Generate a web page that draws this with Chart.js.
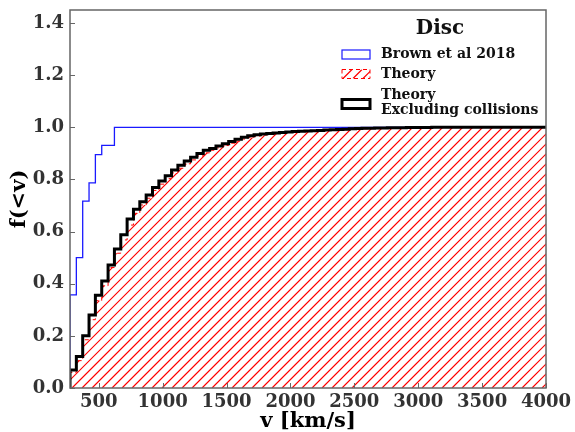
<!DOCTYPE html>
<html>
<head>
<meta charset="utf-8">
<script src="https://cdn.jsdelivr.net/npm/chart.js@4"></script>
<style>
  html, body { margin: 0; padding: 0; background: #fff; }
  #wrap { width: 575px; height: 432px; }
</style>
</head>
<body>
<div id="wrap"><canvas id="cdf"></canvas></div>
<script>
// velocity range and binning of the histograms
const vMin = 275;
const vMax = 4000;
const nBins = 75;

// Brown et al 2018 (only first bins differ from 1)
const brownValues = [0.357, 0.500, 0.717, 0.787, 0.895, 0.931, 0.931, 1.000];

// Theory (hatched)
const theoryValues = [
  0.060, 0.105, 0.185, 0.262, 0.335, 0.392, 0.462, 0.517, 0.568, 0.625,
  0.670, 0.702, 0.728, 0.758, 0.782, 0.803, 0.825, 0.843, 0.860, 0.875,
  0.890, 0.902, 0.912, 0.921, 0.930, 0.939, 0.947, 0.955, 0.961, 0.966,
  0.970, 0.973, 0.976, 0.978, 0.980, 0.982, 0.983, 0.985, 0.986, 0.987,
  0.988, 0.989, 0.990, 0.991, 0.992, 0.993, 0.994, 0.995, 0.995, 0.996,
  0.996, 0.997, 0.997, 0.998, 0.998, 0.998, 0.999, 0.999, 0.999, 0.999,
  0.999, 0.999, 1.000, 1.000, 1.000, 1.000, 1.000, 1.000, 1.000, 1.000,
  1.000, 1.000, 1.000, 1.000, 1.000
];

// Theory excluding collisions (thick black)
const noCollValues = [
  0.069, 0.121, 0.200, 0.280, 0.356, 0.410, 0.472, 0.533, 0.588, 0.648,
  0.686, 0.714, 0.740, 0.769, 0.794, 0.814, 0.836, 0.854, 0.871, 0.885,
  0.900, 0.912, 0.919, 0.928, 0.937, 0.946, 0.954, 0.962, 0.968, 0.971,
  0.974, 0.976, 0.978, 0.980, 0.982, 0.984, 0.985, 0.986, 0.987, 0.988,
  0.990, 0.991, 0.992, 0.993, 0.994, 0.995, 0.996, 0.996, 0.997, 0.997,
  0.998, 0.998, 0.998, 0.999, 0.999, 0.999, 0.999, 1.000, 1.000, 1.000,
  1.000, 1.000, 1.000, 1.000, 1.000, 1.000, 1.000, 1.000, 1.000, 1.000,
  1.000, 1.000, 1.000, 1.000, 1.000
];

const xTicks = [500, 1000, 1500, 2000, 2500, 3000, 3500, 4000];
const yTicks = [0.0, 0.2, 0.4, 0.6, 0.8, 1.0, 1.2, 1.4];

const binWidth = (vMax - vMin) / nBins;

// step outline: left edge of each bin, then close at the right end
function stepPoints(values, endX) {
  const pts = [{ x: vMin, y: 0 }];
  values.forEach((v, i) => pts.push({ x: vMin + i * binWidth, y: v }));
  pts.push({ x: endX, y: values[values.length - 1] });
  return pts;
}

const serif = 'DejaVu Serif';
const HATCHED = 2; // dataset index of "Theory"

// stroke "///" lines inside whatever path is currently clipped
function strokeHatch(ctx, x0, y0, x1, y1) {
  const h = y1 - y0;
  ctx.strokeStyle = '#ff0000';
  ctx.lineWidth = 1.2;
  ctx.beginPath();
  for (let k = x0 - h; k < x1 + 10; k += 10) {
    ctx.moveTo(k, y1);
    ctx.lineTo(k + h, y0);
  }
  ctx.stroke();
}

const hatchFill = {
  id: 'hatchFill',
  beforeDatasetDraw(chart, args) {
    if (args.index !== HATCHED) return;
    const ctx = chart.ctx;
    const a = chart.chartArea;
    const pts = args.meta.data;
    const y0 = chart.scales.y.getPixelForValue(0);
    ctx.save();
    ctx.beginPath();
    ctx.rect(a.left, a.top, a.right - a.left, a.bottom - a.top);
    ctx.clip();
    ctx.beginPath();
    ctx.moveTo(pts[0].x, y0);
    ctx.lineTo(pts[0].x, pts[0].y);
    for (let i = 1; i < pts.length; i++) {
      ctx.lineTo(pts[i].x, pts[i - 1].y);
      ctx.lineTo(pts[i].x, pts[i].y);
    }
    ctx.lineTo(pts[pts.length - 1].x, y0);
    ctx.closePath();
    ctx.clip();
    strokeHatch(ctx, a.left, a.top, a.right, a.bottom);
    ctx.restore();
  }
};

const frameAndLegend = {
  id: 'frameAndLegend',
  afterDatasetsDraw(chart) {
    const ctx = chart.ctx;
    const a = chart.chartArea;
    const xs = chart.scales.x, ys = chart.scales.y;
    ctx.save();
    // inward ticks
    ctx.strokeStyle = '#666';
    ctx.lineWidth = 1;
    ctx.beginPath();
    xTicks.forEach(t => {
      const px = Math.round(xs.getPixelForValue(t)) + 0.5;
      ctx.moveTo(px, a.bottom); ctx.lineTo(px, a.bottom - 5);
    });
    yTicks.forEach(t => {
      const py = Math.round(ys.getPixelForValue(t)) + 0.5;
      ctx.moveTo(a.left, py); ctx.lineTo(a.left + 5, py);
    });
    ctx.stroke();
    // frame
    ctx.strokeStyle = '#666';
    ctx.lineWidth = 1.5;
    ctx.strokeRect(a.left, a.top, a.right - a.left, a.bottom - a.top);

    // legend
    ctx.fillStyle = '#111';
    ctx.textBaseline = 'middle';
    ctx.textAlign = 'center';
    ctx.font = 'bold 20px "' + serif + '"';
    ctx.fillText('Disc', 440, 29);

    ctx.textAlign = 'left';
    ctx.font = 'bold 14px "' + serif + '"';

    ctx.strokeStyle = '#1a1aff';
    ctx.lineWidth = 1.2;
    ctx.strokeRect(342, 50, 28, 9);
    ctx.fillText('Brown et al 2018', 381, 54.5);

    ctx.save();
    ctx.beginPath();
    ctx.rect(342, 69.5, 28, 9);
    ctx.clip();
    strokeHatch(ctx, 342, 69.5, 370, 78.5);
    ctx.restore();
    ctx.setLineDash([4, 3]);
    ctx.strokeStyle = '#ff0000';
    ctx.lineWidth = 1;
    ctx.strokeRect(342, 69.5, 28, 9);
    ctx.setLineDash([]);
    ctx.fillText('Theory', 381, 74.5);

    ctx.strokeStyle = '#000';
    ctx.lineWidth = 3;
    ctx.strokeRect(342, 99.5, 28, 9);
    ctx.fillText('Theory', 381, 95);
    ctx.fillText('Excluding collisions', 381, 110);
    ctx.restore();
  }
};

new Chart(document.getElementById('cdf').getContext('2d'), {
  type: 'line',
  data: {
    datasets: [
      {
        label: 'Theory Excluding collisions',
        data: stepPoints(noCollValues, vMax + binWidth),
        stepped: 'before',
        borderColor: '#000',
        borderWidth: 3,
        pointRadius: 0,
        fill: false,
        order: 0
      },
      {
        label: 'Brown et al 2018',
        data: stepPoints(brownValues, vMax),
        stepped: 'before',
        borderColor: '#1a1aff',
        borderWidth: 1.3,
        pointRadius: 0,
        fill: false,
        order: 1
      },
      {
        label: 'Theory',
        data: stepPoints(theoryValues, vMax + binWidth),
        stepped: 'before',
        borderColor: '#ff0000',
        borderWidth: 1,
        borderDash: [4, 3],
        backgroundColor: 'rgba(0,0,0,0)',
        pointRadius: 0,
        fill: false,
        order: 2
      }
    ]
  },
  options: {
    responsive: true,
    maintainAspectRatio: false,
    animation: false,
    layout: { padding: { top: 10, right: 29, left: 0, bottom: 0 } },
    plugins: {
      legend: { display: false },
      tooltip: { enabled: false }
    },
    scales: {
      x: {
        type: 'linear',
        min: vMin,
        max: vMax,
        afterBuildTicks: s => { s.ticks = xTicks.map(v => ({ value: v })); },
        afterFit: s => { s.height = 44; s.paddingLeft = 0; s.paddingRight = 0; },
        grid: { display: false, drawTicks: false },
        border: { display: false },
        ticks: {
          padding: 4,
          color: '#333',
          font: { family: serif, weight: 'bold', size: 18 },
          maxRotation: 0,
          callback: v => String(v)
        },
        title: {
          display: true,
          text: 'v [km/s]',
          color: '#000',
          padding: { top: 0, bottom: 0 },
          font: { family: serif, weight: 'bold', size: 21, lineHeight: 1.0 }
        }
      },
      y: {
        type: 'linear',
        min: 0,
        max: 1.45,
        afterBuildTicks: s => { s.ticks = yTicks.map(v => ({ value: v })); },
        afterFit: s => { s.width = 70; s.paddingTop = 0; s.paddingBottom = 0; },
        grid: { display: false, drawTicks: false },
        border: { display: false },
        ticks: {
          padding: 6,
          color: '#333',
          font: { family: serif, weight: 'bold', size: 18 },
          callback: v => v.toFixed(1)
        },
        title: {
          display: true,
          text: 'f(<v)',
          color: '#000',
          padding: { top: 9, bottom: 0 },
          font: { family: serif, weight: 'bold', size: 21, lineHeight: 1.0 }
        }
      }
    }
  },
  plugins: [hatchFill, frameAndLegend]
});
</script>
</body>
</html>
